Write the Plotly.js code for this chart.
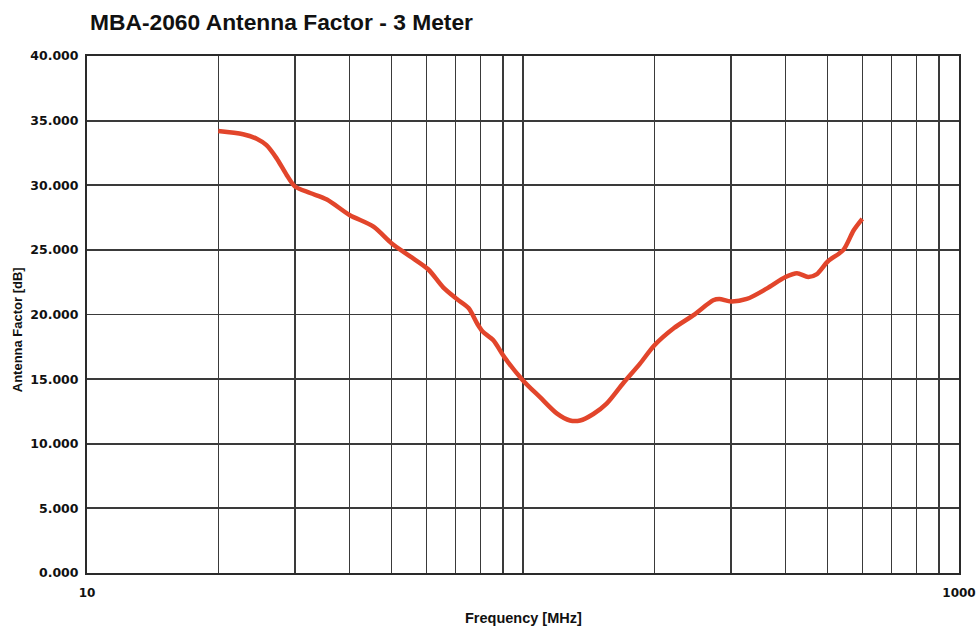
<!DOCTYPE html>
<html>
<head>
<meta charset="utf-8">
<script src="https://cdn.plot.ly/plotly-3.0.1.min.js"></script>
<style>html,body{margin:0;padding:0;background:#fff;}#chart{width:976px;height:626px;}</style>
</head>
<body>
<div id="chart"></div>
<script>
// Frequency (MHz)
var freqMHz = [20, 22.8, 24.5, 25.8, 27.2, 28.7, 30, 32.5, 35.5, 40, 45.4, 50, 55.1, 60.6, 65.6, 70.5, 75, 78.5, 80.7, 85.5, 90.6, 100, 109.4, 119.5, 128.2, 135.2, 145, 155.5, 169.9, 185.5, 200, 222, 246, 273, 282, 300, 326, 362, 400, 425, 451, 471, 500, 543, 573, 600];
// Antenna factor (dB)
var antennaFactorDb = [34.2, 33.95, 33.6, 33.1, 32.1, 30.8, 29.9, 29.4, 28.9, 27.7, 26.8, 25.5, 24.5, 23.5, 22.1, 21.2, 20.5, 19.3, 18.7, 18.0, 16.7, 14.9, 13.6, 12.35, 11.8, 11.8, 12.3, 13.1, 14.7, 16.2, 17.6, 18.95, 19.95, 21.1, 21.2, 21.0, 21.2, 22.0, 22.9, 23.2, 22.9, 23.1, 24.1, 25.0, 26.5, 27.4];
// X grid / tick values and labels
var xTickVals = [10, 20, 30, 40, 50, 60, 70, 80, 90, 100, 200, 300, 400, 500, 600, 700, 800, 900, 1000];
var xTickText = ["10", "", "", "", "", "", "", "", "", "", "", "", "", "", "", "", "", "", "1000"];
var yTickVals = [0, 5, 10, 15, 20, 25, 30, 35, 40];
var yTickText = ["0.000", "5.000", "10.000", "15.000", "20.000", "25.000", "30.000", "35.000", "40.000"];

var trace = {
  x: freqMHz,
  y: antennaFactorDb,
  type: 'scatter',
  mode: 'lines',
  line: {color: '#e2452b', width: 4.5, shape: 'spline', smoothing: 0.8},
  hoverinfo: 'x+y'
};

var layout = {
  width: 976,
  height: 626,
  paper_bgcolor: '#ffffff',
  plot_bgcolor: '#ffffff',
  margin: {l: 87, r: 17, t: 56, b: 53, pad: 0},
  showlegend: false,
  title: {
    text: 'MBA-2060 Antenna Factor - 3 Meter',
    font: {family: 'Liberation Sans, Arial, sans-serif', size: 22.8, color: '#111111', weight: 'bold'},
    x: 90 / 976, xref: 'container', xanchor: 'left',
    y: 1 - 22 / 626, yref: 'container', yanchor: 'middle'
  },
  xaxis: {
    type: 'log',
    range: [1, 3],
    tickmode: 'array',
    tickvals: xTickVals,
    ticktext: xTickText,
    showgrid: true,
    gridcolor: '#3a3a3a',
    gridwidth: 1.3,
    showline: true,
    linecolor: '#2a2a2a',
    linewidth: 2,
    mirror: true,
    ticks: '',
    ticklabelstandoff: 8,
    tickfont: {family: 'DejaVu Sans, sans-serif', size: 12, color: '#111111', weight: 'bold'},
    zeroline: false,
    fixedrange: true
  },
  yaxis: {
    range: [0, 40],
    tickmode: 'array',
    tickvals: yTickVals,
    ticktext: yTickText,
    showgrid: true,
    gridcolor: '#3a3a3a',
    gridwidth: 1.8,
    showline: true,
    linecolor: '#2a2a2a',
    linewidth: 2,
    mirror: true,
    ticks: '',
    ticklen: 0,
    ticklabelstandoff: 4,
    tickfont: {family: 'DejaVu Sans, sans-serif', size: 12.5, color: '#111111', weight: 'bold'},
    zeroline: false,
    fixedrange: true
  },
  annotations: [
    {
      text: 'Frequency [MHz]',
      xref: 'paper', yref: 'paper',
      x: 0.5, y: -0.088, xanchor: 'center', yanchor: 'middle',
      showarrow: false,
      font: {family: 'Liberation Sans, Arial, sans-serif', size: 14.5, color: '#111111', weight: 'bold'}
    },
    {
      text: 'Antenna Factor [dB]',
      xref: 'paper', yref: 'paper',
      x: -0.08, y: 0.47, xanchor: 'center', yanchor: 'middle',
      textangle: -90,
      showarrow: false,
      font: {family: 'Liberation Sans, Arial, sans-serif', size: 13, color: '#111111', weight: 'bold'}
    }
  ]
};

Plotly.newPlot('chart', [trace], layout, {displayModeBar: false, staticPlot: true});
</script>
</body>
</html>
